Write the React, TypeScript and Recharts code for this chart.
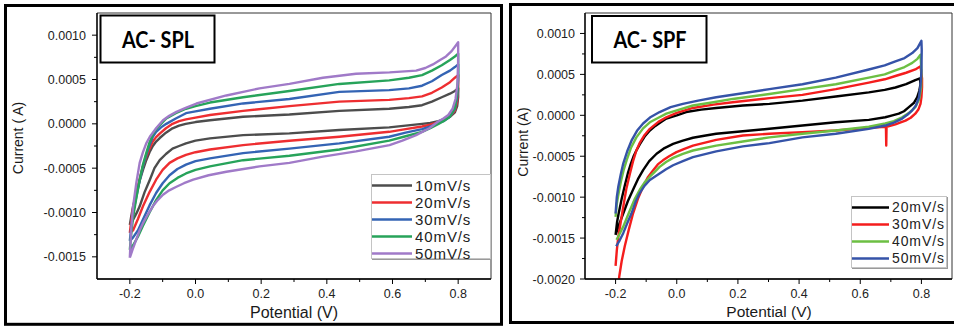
import React from 'react';
import { LineChart, Line, XAxis, YAxis, ReferenceArea, Legend } from 'recharts';

type Pt = [number, number];

// ---------- tick values ----------
const potentialMajorTicks = [-0.2, 0, 0.2, 0.4, 0.6, 0.8];
const potentialMinorTicks = [-0.1, 0.1, 0.3, 0.5, 0.7];
const splCurrentMajorTicks = [0.001, 0.0005, 0, -0.0005, -0.001, -0.0015];
const splCurrentMinorTicks = [0.00075, 0.00025, -0.00025, -0.00075, -0.00125];
const spfCurrentMajorTicks = [0.001, 0.0005, 0, -0.0005, -0.001, -0.0015, -0.002];
const spfCurrentMinorTicks = [0.00075, 0.00025, -0.00025, -0.00075, -0.00125, -0.00175];

// ---------- AC- SPL (potential V, current A) ----------
const splRates = ['10mV/s', '20mV/s', '30mV/s', '40mV/s', '50mV/s'];

const spl10: Pt[] = [
  [-0.2, -0.00114], [-0.196, -0.00105], [-0.19, -0.00093], [-0.18, -0.00078], [-0.17, -0.00064],
  [-0.16, -0.00052], [-0.15, -0.00041], [-0.14, -0.00032], [-0.13, -0.00025], [-0.12, -0.0002],
  [-0.109, -0.00016], [-0.09, -0.0001], [-0.07, -0.00005], [-0.05, -0.00002], [-0.03, 0.0],
  [0.0, 0.00002], [0.044, 0.00004], [0.145, 0.00008], [0.286, 0.000105], [0.438, 0.000146],
  [0.59, 0.00017], [0.65, 0.00019], [0.69, 0.00021], [0.72, 0.00025], [0.75, 0.0003],
  [0.775, 0.00034], [0.79, 0.00037], [0.8, 0.0004],
  [0.8, 0.0003], [0.797, 0.0002], [0.79, 0.00013], [0.775, 0.00008], [0.755, 0.00005],
  [0.74, 0.00003], [0.715, 0.00001], [0.69, 0.0], [0.64, -0.00002], [0.59, -0.00004],
  [0.438, -0.00007], [0.286, -0.000108], [0.145, -0.000127], [0.044, -0.000164], [0.0, -0.00019],
  [-0.029, -0.00022], [-0.05, -0.00025], [-0.07, -0.00028], [-0.09, -0.00034], [-0.109, -0.00041],
  [-0.125, -0.0005], [-0.139, -0.00063], [-0.155, -0.00077], [-0.17, -0.00093], [-0.18, -0.00101],
  [-0.19, -0.00108], [-0.2, -0.00114],
];
const spl20: Pt[] = [
  [-0.2, -0.00123], [-0.196, -0.0011], [-0.19, -0.00095], [-0.18, -0.00078], [-0.17, -0.00062],
  [-0.16, -0.00048], [-0.15, -0.00037], [-0.14, -0.00028], [-0.13, -0.0002], [-0.12, -0.00015],
  [-0.109, -0.00011], [-0.09, -0.00005], [-0.07, 0.0], [-0.05, 0.00003], [-0.029, 0.00005],
  [0.0, 0.00007], [0.044, 0.0001], [0.145, 0.000146], [0.286, 0.0002], [0.438, 0.00025],
  [0.59, 0.00027], [0.65, 0.00029], [0.69, 0.00031], [0.72, 0.00035], [0.75, 0.00041],
  [0.775, 0.00047], [0.79, 0.00052], [0.8, 0.00055],
  [0.8, 0.0004], [0.797, 0.00025], [0.79, 0.00015], [0.775, 0.00008], [0.755, 0.00004],
  [0.74, 0.00002], [0.715, -0.00001], [0.69, -0.00003], [0.64, -0.00006], [0.59, -0.00009],
  [0.438, -0.000146], [0.286, -0.00019], [0.145, -0.00024], [0.044, -0.00029], [0.0, -0.00032],
  [-0.029, -0.00035], [-0.055, -0.00039], [-0.079, -0.00044], [-0.1, -0.00052], [-0.12, -0.00063],
  [-0.14, -0.00077], [-0.16, -0.00093], [-0.175, -0.00107], [-0.19, -0.0012], [-0.2, -0.00123],
];
const spl30: Pt[] = [
  [-0.2, -0.00132], [-0.196, -0.00118], [-0.19, -0.001], [-0.18, -0.00082], [-0.17, -0.00064],
  [-0.16, -0.00048], [-0.15, -0.00035], [-0.14, -0.00024], [-0.13, -0.000146], [-0.12, -0.00009],
  [-0.105, -0.00004], [-0.089, 0.0], [-0.06, 0.00006], [-0.029, 0.00012], [0.0, 0.00014],
  [0.044, 0.00017], [0.145, 0.00023], [0.286, 0.00028], [0.438, 0.00036], [0.59, 0.00038],
  [0.65, 0.0004], [0.69, 0.00043], [0.72, 0.00048], [0.75, 0.00055], [0.775, 0.0006],
  [0.79, 0.00064], [0.8, 0.00067],
  [0.8, 0.00048], [0.797, 0.0003], [0.79, 0.00017], [0.775, 0.00008], [0.755, 0.00003],
  [0.74, 0.00001], [0.715, -0.00003], [0.69, -0.00006], [0.64, -0.0001], [0.59, -0.000146],
  [0.438, -0.00022], [0.286, -0.00028], [0.145, -0.00033], [0.044, -0.00039], [0.0, -0.00042],
  [-0.029, -0.00046], [-0.055, -0.00051], [-0.079, -0.00058], [-0.1, -0.00067], [-0.12, -0.00078],
  [-0.14, -0.00092], [-0.16, -0.00108], [-0.175, -0.0012], [-0.19, -0.00128], [-0.2, -0.00132],
];
const spl40: Pt[] = [
  [-0.2, -0.00142], [-0.196, -0.00125], [-0.19, -0.00105], [-0.18, -0.00083], [-0.17, -0.00063],
  [-0.16, -0.00046], [-0.15, -0.00033], [-0.14, -0.00021], [-0.13, -0.00012], [-0.12, -0.00006],
  [-0.105, 0.0], [-0.089, 0.00006], [-0.06, 0.00012], [-0.029, 0.00017], [0.0, 0.0002],
  [0.044, 0.00024], [0.145, 0.0003], [0.286, 0.00037], [0.438, 0.00045], [0.59, 0.00049],
  [0.65, 0.00052], [0.69, 0.00055], [0.72, 0.0006], [0.75, 0.00066], [0.775, 0.00072],
  [0.79, 0.00076], [0.8, 0.00079],
  [0.8, 0.00055], [0.797, 0.00034], [0.79, 0.00018], [0.775, 0.00008], [0.755, 0.00003],
  [0.74, 0.0], [0.715, -0.00005], [0.69, -0.00009], [0.64, -0.00014], [0.59, -0.00019],
  [0.438, -0.00029], [0.286, -0.00036], [0.145, -0.00041], [0.044, -0.00048], [0.0, -0.00052],
  [-0.029, -0.00056], [-0.055, -0.00061], [-0.079, -0.00067], [-0.1, -0.00075], [-0.12, -0.00086],
  [-0.14, -0.001], [-0.16, -0.00115], [-0.175, -0.00127], [-0.19, -0.00137], [-0.2, -0.00142],
];
const spl50: Pt[] = [
  [-0.2, -0.00151], [-0.196, -0.0012], [-0.19, -0.00093], [-0.18, -0.00066], [-0.17, -0.00044],
  [-0.16, -0.00032], [-0.15, -0.00022], [-0.139, -0.000146], [-0.12, -0.00005], [-0.099, 0.00004],
  [-0.08, 0.00009], [-0.058, 0.000135], [-0.03, 0.00018], [0.003, 0.000229], [0.094, 0.00032],
  [0.195, 0.0004], [0.286, 0.00045], [0.388, 0.00052], [0.489, 0.000565], [0.591, 0.00058],
  [0.672, 0.0006], [0.7, 0.00063], [0.723, 0.00067], [0.745, 0.00072], [0.763, 0.00076],
  [0.78, 0.00082], [0.794, 0.00089], [0.8, 0.00092],
  [0.8, 0.0007], [0.798, 0.00045], [0.792, 0.00028], [0.783, 0.00017], [0.77, 0.0001],
  [0.755, 0.00006], [0.737, 0.00002], [0.712, -0.00005], [0.672, -0.000127], [0.63, -0.00019],
  [0.591, -0.00024], [0.489, -0.00031], [0.388, -0.00037], [0.286, -0.00044], [0.195, -0.00048],
  [0.094, -0.00054], [0.04, -0.00058], [-0.007, -0.00063], [-0.035, -0.00067], [-0.058, -0.00071],
  [-0.08, -0.00075], [-0.099, -0.0008], [-0.115, -0.00086], [-0.13, -0.00093], [-0.145, -0.00102],
  [-0.16, -0.00112], [-0.17, -0.0012], [-0.18, -0.0013], [-0.19, -0.0014], [-0.2, -0.00151],
];

// ---------- AC- SPF ----------
const spfRates = ['20mV/s', '30mV/s', '40mV/s', '50mV/s'];

const spf20: Pt[] = [
  [-0.2, -0.00146], [-0.195, -0.0013], [-0.19, -0.0012], [-0.18, -0.00102], [-0.17, -0.00086],
  [-0.16, -0.00071], [-0.15, -0.00059], [-0.14, -0.00049], [-0.132, -0.00043], [-0.12, -0.00035],
  [-0.105, -0.00026], [-0.088, -0.000186], [-0.07, -0.00013], [-0.05, -0.00008], [-0.034, -0.00004],
  [0.0, 0.0], [0.031, 0.00004], [0.08, 0.00007], [0.129, 0.00009], [0.216, 0.00012],
  [0.303, 0.00014], [0.411, 0.00018], [0.52, 0.00023], [0.628, 0.00028], [0.68, 0.00031],
  [0.715, 0.00034], [0.75, 0.00038], [0.78, 0.00043], [0.795, 0.00045],
  [0.797, 0.00038], [0.793, 0.0003], [0.786, 0.00022], [0.775, 0.00015], [0.759, 0.0001],
  [0.743, 0.00005], [0.726, 0.00002], [0.705, 0.0], [0.682, -0.000024], [0.628, -0.000056],
  [0.52, -0.000085], [0.411, -0.000125], [0.303, -0.000165], [0.216, -0.000194], [0.129, -0.000226],
  [0.09, -0.00025], [0.053, -0.000274], [0.02, -0.00031], [-0.012, -0.00035], [-0.04, -0.0004],
  [-0.066, -0.00047], [-0.09, -0.00056], [-0.11, -0.00067], [-0.127, -0.00078], [-0.143, -0.00091],
  [-0.16, -0.00105], [-0.175, -0.0012], [-0.188, -0.00133], [-0.2, -0.00146],
];
const spf30: Pt[] = [
  [-0.2, -0.00184], [-0.196, -0.00165], [-0.191, -0.00148], [-0.183, -0.0013], [-0.175, -0.00112],
  [-0.165, -0.0009], [-0.153, -0.00071], [-0.142, -0.00055], [-0.132, -0.00043], [-0.12, -0.00033],
  [-0.105, -0.00024], [-0.088, -0.000165], [-0.06, -0.00008], [-0.034, -0.000024], [0.0, 0.00003],
  [0.053, 0.00009], [0.12, 0.00013], [0.183, 0.00016], [0.303, 0.00021], [0.411, 0.00025],
  [0.52, 0.00032], [0.628, 0.0004], [0.68, 0.00044], [0.715, 0.00048], [0.75, 0.00052],
  [0.78, 0.00056], [0.797, 0.0006],
  [0.802, 0.00045], [0.802, 0.00034], [0.8, 0.00022], [0.797, 0.00014], [0.79, 0.00007],
  [0.78, 0.00002], [0.765, -0.00003], [0.748, -0.000065], [0.73, -0.00009], [0.715, -0.00011],
  [0.686, -0.00014], [0.685, -0.00037], [0.684, -0.00014], [0.628, -0.000153], [0.52, -0.000186],
  [0.411, -0.000206], [0.303, -0.000226], [0.216, -0.000246], [0.129, -0.0003], [0.053, -0.00037],
  [0.025, -0.00041], [-0.001, -0.00045], [-0.025, -0.0005], [-0.045, -0.00055], [-0.062, -0.0006],
  [-0.077, -0.00067], [-0.095, -0.00076], [-0.11, -0.00087], [-0.127, -0.00102], [-0.143, -0.0012],
  [-0.157, -0.0014], [-0.17, -0.0016], [-0.18, -0.00178], [-0.188, -0.00197], [-0.192, -0.0021],
];
const spf40: Pt[] = [
  [-0.2, -0.00124], [-0.196, -0.00108], [-0.19, -0.00095], [-0.182, -0.0008], [-0.173, -0.00066],
  [-0.164, -0.00055], [-0.15, -0.0004], [-0.132, -0.00027], [-0.11, -0.00016], [-0.088, -0.000085],
  [-0.06, -0.00003], [-0.034, 0.00002], [0.0, 0.00006], [0.053, 0.00012], [0.12, 0.00016],
  [0.183, 0.0002], [0.303, 0.00026], [0.411, 0.00032], [0.52, 0.00038], [0.628, 0.00046],
  [0.68, 0.0005], [0.715, 0.00055], [0.745, 0.00059], [0.77, 0.00064], [0.787, 0.00069],
  [0.797, 0.00074],
  [0.8, 0.00055], [0.799, 0.00034], [0.793, 0.0002], [0.78, 0.0001], [0.76, 0.00003],
  [0.737, -0.000024], [0.71, -0.00007], [0.682, -0.0001], [0.628, -0.00014], [0.52, -0.000186],
  [0.411, -0.000226], [0.303, -0.00027], [0.216, -0.00032], [0.129, -0.00037], [0.053, -0.00043],
  [0.02, -0.00047], [-0.012, -0.00052], [-0.035, -0.00057], [-0.056, -0.00063], [-0.072, -0.00069],
  [-0.088, -0.00075], [-0.105, -0.00082], [-0.121, -0.00091], [-0.137, -0.00102], [-0.153, -0.00116],
  [-0.165, -0.00127], [-0.175, -0.00136], [-0.187, -0.00145], [-0.197, -0.00152],
];
const spf50: Pt[] = [
  [-0.2, -0.0012], [-0.196, -0.001], [-0.191, -0.00087], [-0.183, -0.00072], [-0.175, -0.00059],
  [-0.162, -0.00044], [-0.148, -0.00031], [-0.13, -0.00019], [-0.11, -0.0001], [-0.085, -0.00002],
  [-0.056, 0.00004], [-0.02, 0.0001], [0.02, 0.00014], [0.07, 0.00018], [0.129, 0.00022],
  [0.216, 0.00027], [0.303, 0.00032], [0.411, 0.00038], [0.52, 0.00046], [0.628, 0.00056],
  [0.68, 0.00061], [0.715, 0.00066], [0.745, 0.0007], [0.77, 0.00076], [0.787, 0.00082],
  [0.8, 0.00091],
  [0.801, 0.0008], [0.8, 0.00054], [0.797, 0.00036], [0.792, 0.00022], [0.782, 0.00012],
  [0.77, 0.00006], [0.755, 0.00001], [0.737, -0.00004], [0.71, -0.00009], [0.682, -0.000125],
  [0.628, -0.000165], [0.52, -0.000226], [0.411, -0.00027], [0.303, -0.00034], [0.216, -0.00038],
  [0.129, -0.00044], [0.053, -0.00051], [0.02, -0.00056], [-0.012, -0.00061], [-0.035, -0.00066],
  [-0.056, -0.00071], [-0.072, -0.00075], [-0.088, -0.00079], [-0.105, -0.00086], [-0.121, -0.00095],
  [-0.135, -0.00106], [-0.148, -0.0012], [-0.162, -0.00132], [-0.175, -0.00144], [-0.187, -0.00153],
  [-0.198, -0.0016],
];

// ---------- styling ----------
const splColors = ['#4d4d4d', '#ee2e31', '#3464b4', '#27a35a', '#a07ac8'];
const spfColors = ['#000000', '#f41d1d', '#6cbf43', '#3553a8'];

const toRows = (pts: Pt[]) => pts.map(([v, i]) => ({ v, i }));

const splSeries = [spl10, spl20, spl30, spl40, spl50].map((d, k) => ({
  name: splRates[k], color: splColors[k], data: toRows(d),
}));
const spfSeries = [spf20, spf30, spf40, spf50].map((d, k) => ({
  name: spfRates[k], color: spfColors[k], data: toRows(d),
}));

const FONT = '"Liberation Sans", Arial, sans-serif';
const tickStyle: React.CSSProperties = { fontFamily: FONT, fontSize: 12.5, fill: '#222' };
const TICK_SIZE = 5;

const isIn = (arr: number[], v: number) => arr.some((m) => Math.abs(m - v) < 1e-9);

const makeXTick = (majors: number[], margin: number) => (props: any) => {
  const { x, y, payload } = props;
  const axisY = y - TICK_SIZE - margin;
  const major = isIn(majors, payload.value);
  return (
    <g>
      <line x1={x} x2={x} y1={axisY} y2={axisY + (major ? 5 : 3)} stroke="#000" strokeWidth={1} />
      {major && (
        <text x={x} y={y} dy="0.71em" textAnchor="middle" style={tickStyle}>
          {Number(payload.value).toFixed(1)}
        </text>
      )}
    </g>
  );
};

const makeYTick = (majors: number[], margin: number) => (props: any) => {
  const { x, y, payload } = props;
  const axisX = x + TICK_SIZE + margin;
  const major = isIn(majors, payload.value);
  return (
    <g>
      <line x1={axisX - (major ? 5 : 3)} x2={axisX} y1={y} y2={y} stroke="#000" strokeWidth={1} />
      {major && (
        <text x={x} y={y} dy="0.36em" textAnchor="end" style={tickStyle}>
          {Number(payload.value).toFixed(4)}
        </text>
      )}
    </g>
  );
};

type SeriesT = { name: string; color: string; data: { v: number; i: number }[] };

const LegendBox = ({ items, lineLen, fontSize, spacing }: { items: SeriesT[]; lineLen: number; fontSize: number; spacing: number }) => (
  <div
    style={{
      boxSizing: 'border-box', width: '100%', height: '100%', border: '1px solid #c4c4c4',
      boxShadow: '1px 1px 0 #9a9a9a', background: '#fff', paddingTop: 2, fontFamily: FONT,
    }}
  >
    {items.map((it) => (
      <div key={it.name} style={{ display: 'flex', alignItems: 'center', height: 17 }}>
        <svg width={lineLen + 3} height={17} style={{ display: 'block', flex: 'none' }}>
          <line x1={0} x2={lineLen} y1={8.5} y2={8.5} stroke={it.color} strokeWidth={2.5} />
        </svg>
        <span style={{ fontSize, letterSpacing: spacing, color: '#222', lineHeight: '17px', whiteSpace: 'nowrap' }}>
          {it.name}
        </span>
      </div>
    ))}
  </div>
);

type PanelProps = {
  left: number; width: number; yAxisWidth: number; marginRight: number;
  yDomain: [number, number]; yMajor: number[]; yMinor: number[]; yTickMargin: number;
  series: SeriesT[];
  legend: { left: number; top: number; width: number; height: number; lineLen: number; fontSize: number; spacing: number };
};

const Panel = (p: PanelProps) => {
  const xTicks = [...potentialMajorTicks, ...potentialMinorTicks].sort((a, b) => a - b);
  const yTicks = [...p.yMajor, ...p.yMinor].sort((a, b) => a - b);
  return (
    <div style={{ position: 'absolute', left: p.left, top: 0 }}>
      <LineChart width={p.width} height={329} margin={{ top: 13, right: p.marginRight, bottom: 0, left: 0 }}>
        <XAxis
          type="number" dataKey="v" domain={[-0.3, 0.9]} ticks={xTicks} interval={0} height={50}
          tickSize={TICK_SIZE} tickMargin={5} tickLine={false} allowDataOverflow
          axisLine={{ stroke: '#000', strokeWidth: 1.3 }} tick={makeXTick(potentialMajorTicks, 5)}
        />
        <YAxis
          type="number" dataKey="i" domain={p.yDomain} ticks={yTicks} interval={0} width={p.yAxisWidth}
          tickSize={TICK_SIZE} tickMargin={p.yTickMargin} tickLine={false} allowDataOverflow
          axisLine={{ stroke: '#000', strokeWidth: 1.3 }} tick={makeYTick(p.yMajor, p.yTickMargin)}
        />
        <ReferenceArea
          x1={-0.3} x2={0.9} y1={p.yDomain[0]} y2={p.yDomain[1]}
          fill="none" fillOpacity={0} stroke="#333" strokeWidth={1}
        />
        {p.series.map((s) => (
          <Line
            key={s.name} data={s.data} dataKey="i" name={s.name} type="linear" stroke={s.color}
            strokeWidth={2.4} strokeLinejoin="round" dot={false} activeDot={false} isAnimationActive={false}
          />
        ))}
        <Legend
          layout="vertical" align="center" verticalAlign="middle"
          wrapperStyle={{ left: p.legend.left, top: p.legend.top, width: p.legend.width, height: p.legend.height }}
          content={() => (
            <LegendBox items={p.series} lineLen={p.legend.lineLen} fontSize={p.legend.fontSize} spacing={p.legend.spacing} />
          )}
        />
      </LineChart>
    </div>
  );
};

const labelStyle: React.CSSProperties = { fontFamily: FONT, fill: '#1a1a1a' };
const titleStyle: React.CSSProperties = { fontFamily: 'Lato, "Open Sans", sans-serif', fontWeight: 700, fontSize: 23, fill: '#000' };

export default function App() {
  return (
    <div style={{ position: 'absolute', left: 0, top: 0, width: 954, height: 329, background: '#fff', overflow: 'hidden' }}>
      <Panel
        left={0} width={500} yAxisWidth={97} marginRight={9}
        yDomain={[-0.00175, 0.00125]} yMajor={splCurrentMajorTicks} yMinor={splCurrentMinorTicks} yTickMargin={6}
        series={splSeries}
        legend={{ left: 371, top: 174, width: 120, height: 85, lineLen: 40, fontSize: 15, spacing: 0.9 }}
      />
      <Panel
        left={500} width={454} yAxisWidth={85} marginRight={2}
        yDomain={[-0.002, 0.00125]} yMajor={spfCurrentMajorTicks} yMinor={spfCurrentMinorTicks} yTickMargin={5}
        series={spfSeries}
        legend={{ left: 351, top: 196, width: 96, height: 72, lineLen: 37, fontSize: 14, spacing: 0.9 }}
      />
      <svg width={954} height={329} style={{ position: 'absolute', left: 0, top: 0, pointerEvents: 'none' }}>
        <rect x={5.5} y={5.5} width={496} height={318.8} fill="none" stroke="#000" strokeWidth={3} />
        <rect x={510.5} y={4.5} width={460} height={318} fill="none" stroke="#000" strokeWidth={3} />

        <rect x={100.5} y={15.5} width={114} height={47} fill="#fff" stroke="#000" strokeWidth={2} />
        <text x={158} y={48.3} textAnchor="middle" textLength={72} lengthAdjust="spacingAndGlyphs" style={titleStyle}>AC- SPL</text>
        <rect x={592} y={16} width={114.5} height={46.5} fill="#fff" stroke="#000" strokeWidth={2} />
        <text x={650} y={48.3} textAnchor="middle" textLength={73} lengthAdjust="spacingAndGlyphs" style={titleStyle}>AC- SPF</text>

        <text x={18} y={138} transform="rotate(-90 18 138)" textAnchor="middle" dominantBaseline="central" fontSize={14} style={labelStyle}>Current ( A)</text>
        <text x={294} y={318} textAnchor="middle" fontSize={16} style={labelStyle}>Potential (V)</text>
        <text x={523} y={142} transform="rotate(-90 523 142)" textAnchor="middle" dominantBaseline="central" fontSize={14} style={labelStyle}>Current (A)</text>
        <text x={769} y={317} textAnchor="middle" fontSize={15.5} style={labelStyle}>Potential (V)</text>
      </svg>
    </div>
  );
}
